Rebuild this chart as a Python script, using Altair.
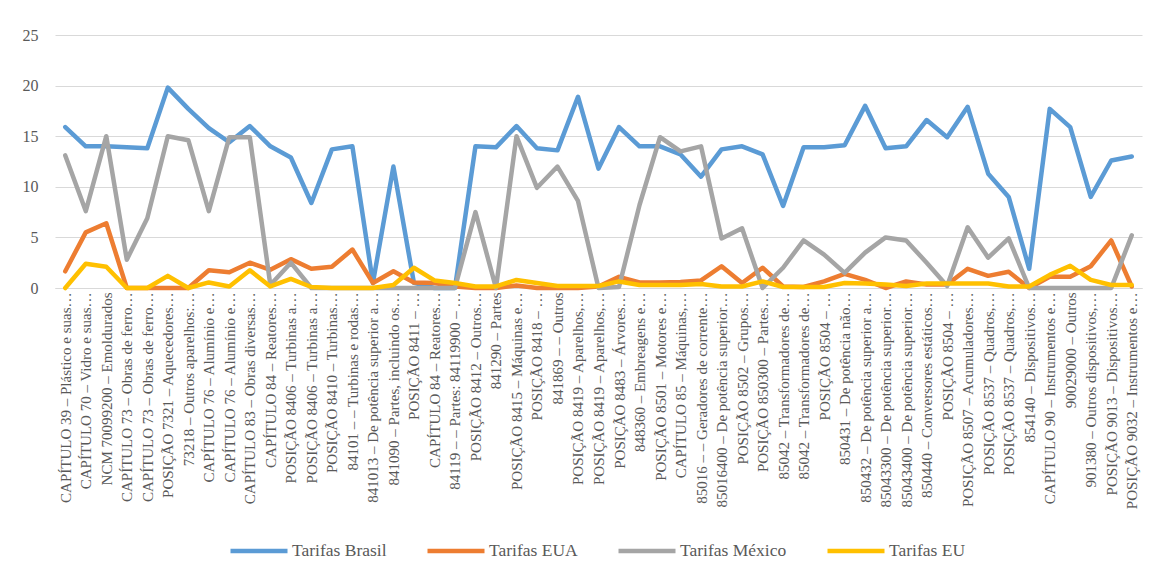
import json
import altair as alt
import pandas as pd

labels = [
    "CAPÍTULO 39 – Plástico e suas…",
    "CAPÍTULO 70 – Vidro e suas…",
    "NCM 70099200 – Emoldurados",
    "CAPÍTULO 73 – Obras de ferro…",
    "CAPÍTULO 73 – Obras de ferro…",
    "POSIÇÃO 7321 – Aquecedores…",
    "73218 – Outros aparelhos:…",
    "CAPÍTULO 76 – Alumínio e…",
    "CAPÍTULO 76 – Alumínio e…",
    "CAPÍTULO 83 – Obras diversas…",
    "CAPÍTULO 84 – Reatores…",
    "POSIÇÃO 8406 – Turbinas a…",
    "POSIÇÃO 8406 – Turbinas a…",
    "POSIÇÃO 8410 – Turbinas…",
    "84101 – – Turbinas e rodas…",
    "841013 – De potência superior a…",
    "841090 – Partes, incluindo os…",
    "POSIÇÃO 8411 – …",
    "CAPÍTULO 84 – Reatores…",
    "84119 – – Partes: 84119900 – …",
    "POSIÇÃO 8412 – Outros…",
    "841290 – Partes",
    "POSIÇÃO 8415 – Máquinas e…",
    "POSIÇÃO 8418 – …",
    "841869 – – Outros",
    "POSIÇÃO 8419 – Aparelhos,…",
    "POSIÇÃO 8419 – Aparelhos,…",
    "POSIÇÃO 8483 – Árvores…",
    "848360 – Embreagens e…",
    "POSIÇÃO 8501 – Motores e…",
    "CAPÍTULO 85 – Máquinas,…",
    "85016 – – Geradores de corrente…",
    "85016400 – De potência superior…",
    "POSIÇÃO 8502 – Grupos…",
    "POSIÇÃO 850300 – Partes…",
    "85042 – Transformadores de…",
    "85042 – Transformadores de…",
    "POSIÇÃO 8504 – …",
    "850431 – De potência não…",
    "850432 – De potência superior a…",
    "85043300 – De potência superior…",
    "85043400 – De potência superior…",
    "850440 – Conversores estáticos…",
    "POSIÇÃO 8504 – …",
    "POSIÇÃO 8507 – Acumuladores…",
    "POSIÇÃO 8537 – Quadros,…",
    "POSIÇÃO 8537 – Quadros,…",
    "854140 – Dispositivos…",
    "CAPÍTULO 90 – Instrumentos e…",
    "90029000 – Outros",
    "901380 – Outros dispositivos,…",
    "POSIÇÃO 9013 – Dispositivos…",
    "POSIÇÃO 9032 – Instrumentos e…",
]

tarifas_brasil = [15.9, 14.0, 14.0, 13.9, 13.8, 19.8, 17.7, 15.8, 14.4, 16.0,
                  14.0, 12.9, 8.4, 13.7, 14.0, 0.5, 12.0, 0.5, 0.0, 0.0,
                  14.0, 13.9, 16.0, 13.8, 13.6, 18.9, 11.8, 15.9, 14.0, 14.0,
                  13.2, 11.0, 13.7, 14.0, 13.2, 8.1, 13.9, 13.9, 14.1, 18.0,
                  13.8, 14.0, 16.6, 14.9, 17.9, 11.3, 9.0, 1.9, 17.7, 15.9,
                  9.0, 12.6, 13.0]
tarifas_eua = [1.65, 5.5, 6.4, 0, 0, 0, 0, 1.75, 1.55, 2.5,
               1.8, 2.85, 1.9, 2.1, 3.8, 0.5, 1.65, 0.55, 0.5, 0.15,
               0, 0, 0.25, 0, 0, 0, 0.15, 1.1, 0.55, 0.55,
               0.6, 0.75, 2.15, 0.5, 2.0, 0.15, 0.1, 0.65, 1.4, 0.8,
               0, 0.65, 0.35, 0.35, 1.9, 1.2, 1.6, 0, 1.1, 1.1,
               2.15, 4.7, 0.15]
tarifas_mexico = [13.1, 7.6, 15.0, 2.8, 6.9, 15.0, 14.6, 7.6, 14.9, 14.9,
                  0.3, 2.5, 0, 0, 0, 0, 0, 0, 0, 0,
                  7.5, 0, 15.0, 9.9, 12.0, 8.6, 0, 0.1, 8.2, 14.9,
                  13.5, 14.0, 4.9, 5.9, 0, 2.0, 4.7, 3.3, 1.5, 3.5,
                  5.0, 4.7, 2.5, 0.2, 6.0, 3.0, 4.9, 0, 0, 0,
                  0, 0, 5.2]
tarifas_eu = [0, 2.4, 2.1, 0, 0, 1.2, 0, 0.55, 0.15, 1.75,
              0.15, 0.9, 0.1, 0, 0, 0, 0.3, 2.0, 0.75, 0.5,
              0.15, 0.15, 0.8, 0.5, 0.2, 0.2, 0.2, 0.65, 0.3, 0.3,
              0.3, 0.4, 0.15, 0.15, 0.65, 0.1, 0.1, 0.1, 0.5, 0.45,
              0.35, 0.2, 0.45, 0.45, 0.45, 0.45, 0.15, 0.15, 1.3, 2.2,
              0.8, 0.3, 0.3]

series_names = ["Tarifas Brasil", "Tarifas EUA", "Tarifas México", "Tarifas EU"]
series_values = [tarifas_brasil, tarifas_eua, tarifas_mexico, tarifas_eu]
colors = ["#5B9BD5", "#ED7D31", "#A5A5A5", "#FFC000"]

rows = []
for s_i, (name, vals) in enumerate(zip(series_names, series_values)):
    for i, v in enumerate(vals):
        rows.append({"idx": i, "serie": name, "valor": v, "ordem": s_i})
df = pd.DataFrame(rows)

label_expr = json.dumps(labels, ensure_ascii=False) + "[datum.value]"

FONT = "Liberation Serif, DejaVu Serif, serif"
TXT = "#595959"

chart = alt.Chart(df).mark_line(
    strokeWidth=4.5, strokeCap="round", strokeJoin="round"
).encode(
    x=alt.X("idx:O", title=None,
            scale=alt.Scale(type="point", padding=0.5),
            axis=alt.Axis(labelExpr=label_expr, labelAngle=-90, labelLimit=400,
                          labelOverlap=False, labelFont=FONT, labelFontSize=15,
                          labelColor=TXT, labelPadding=4, ticks=False,
                          domainColor="#D9D9D9", domainWidth=1, grid=False)),
    y=alt.Y("valor:Q", title=None,
            scale=alt.Scale(domain=[0, 25], nice=False),
            axis=alt.Axis(values=[0, 5, 10, 15, 20, 25], labelFont=FONT,
                          labelFontSize=16, labelColor=TXT, labelPadding=17,
                          ticks=False, domain=False, gridColor="#D9D9D9",
                          gridWidth=1)),
    color=alt.Color("serie:N", sort=series_names,
                    scale=alt.Scale(domain=series_names, range=colors),
                    legend=alt.Legend(title=None, orient="none", direction="horizontal",
                                      legendX=173, legendY=485,
                                      symbolType="stroke", symbolSize=3249,
                                      symbolStrokeWidth=4.5, labelFont=FONT,
                                      labelFontSize=17.5, labelColor=TXT,
                                      labelOffset=2, columnPadding=31)),
    detail="ordem:O",
).properties(
    width=1087, height=253,
    autosize=alt.AutoSizeParams(type="none"),
    padding={"left": 47, "top": 27, "right": 17, "bottom": 278},
).configure_view(stroke=None)

chart.save("out.html", embed_options={"renderer": "svg", "actions": False})
